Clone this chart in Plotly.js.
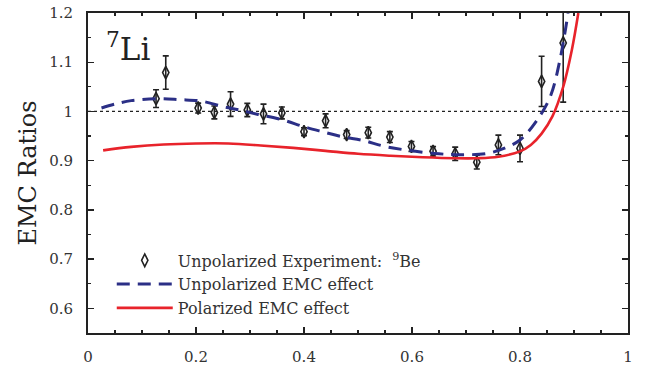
<!DOCTYPE html>
<html>
<head>
<meta charset="utf-8">
<script src="https://cdn.plot.ly/plotly-3.0.1.min.js"></script>
<style>html,body{margin:0;padding:0;background:#fff;}#chart{width:654px;height:367px;}</style>
</head>
<body>
<div id="chart"></div>
<script>
// Experimental points (9Be)
var expX = [0.126, 0.144, 0.204, 0.234, 0.264, 0.295, 0.325, 0.359, 0.400, 0.440, 0.479, 0.519, 0.559, 0.599, 0.639, 0.680, 0.720, 0.760, 0.800, 0.840, 0.880];
var expY = [1.026, 1.079, 1.007, 0.998, 1.015, 1.003, 0.995, 0.997, 0.959, 0.981, 0.953, 0.957, 0.948, 0.929, 0.919, 0.914, 0.897, 0.932, 0.925, 1.061, 1.139];
var expErr = [0.018, 0.034, 0.010, 0.013, 0.025, 0.0135, 0.020, 0.012, 0.008, 0.014, 0.008, 0.011, 0.011, 0.010, 0.0095, 0.0135, 0.014, 0.020, 0.027, 0.051, 0.120];

// Unpolarized EMC effect (dashed)
var unpolX = [0.025, 0.05, 0.08, 0.13, 0.17, 0.21, 0.25, 0.28, 0.315, 0.36, 0.40, 0.43, 0.47, 0.51, 0.55, 0.60, 0.65, 0.69, 0.74, 0.77, 0.80, 0.83, 0.856, 0.874, 0.889];
var unpolY = [1.007, 1.015, 1.022, 1.026, 1.024, 1.021, 1.010, 1.003, 0.994, 0.983, 0.969, 0.960, 0.949, 0.941, 0.929, 0.920, 0.914, 0.912, 0.915, 0.925, 0.942, 0.980, 1.030, 1.105, 1.200];

// Polarized EMC effect (solid)
var polX = [0.028, 0.08, 0.14, 0.20, 0.26, 0.32, 0.38, 0.44, 0.50, 0.56, 0.62, 0.68, 0.72, 0.76, 0.80, 0.82, 0.84, 0.86, 0.88, 0.896, 0.908];
var polY = [0.921, 0.928, 0.933, 0.935, 0.935, 0.931, 0.926, 0.920, 0.914, 0.910, 0.907, 0.905, 0.905, 0.908, 0.919, 0.932, 0.955, 0.990, 1.050, 1.125, 1.200];

// Reference line
var refX = [0.0, 1.0];
var refY = [1.0, 1.0];

var xTicks = [0, 0.2, 0.4, 0.6, 0.8, 1];
var xTickText = ['0', '0.2', '0.4', '0.6', '0.8', '1'];
var yTicks = [0.6, 0.7, 0.8, 0.9, 1.0, 1.1, 1.2];
var yTickText = ['0.6', '0.7', '0.8', '0.9', '1', '1.1', '1.2'];

var serif = 'DejaVu Serif, Liberation Serif, serif';

var traces = [
  {x: refX, y: refY, mode: 'lines', showlegend: false, hoverinfo: 'skip',
   line: {color: '#222', width: 1.2, dash: 'dot'}},
  {x: expX, y: expY, mode: 'markers', name: 'Unpolarized Experiment:  <sup>9</sup>Be',
   marker: {symbol: 'diamond-tall-open', size: 9, color: '#222', line: {width: 1.6, color: '#222'}},
   error_y: {type: 'data', array: expErr, visible: true, color: '#222', thickness: 1.6, width: 3}},
  {x: unpolX, y: unpolY, mode: 'lines', name: 'Unpolarized EMC effect', line: {shape: 'spline', color: '#2b2f86', width: 3, dash: '13px,8px'}},
  {x: polX, y: polY, mode: 'lines', name: 'Polarized EMC effect', line: {shape: 'spline', color: '#e8232b', width: 2.6}}
];

var axisCommon = {
  showline: true, linecolor: '#222', linewidth: 2, mirror: 'allticks',
  ticks: 'inside', ticklen: 6, tickwidth: 1.3, tickcolor: '#222',
  showgrid: false, zeroline: false,
  tickfont: {family: serif, size: 15, color: '#333'}
};

var layout = {
  width: 654, height: 367,
  margin: {l: 88, r: 26, t: 13, b: 34},
  paper_bgcolor: '#fff', plot_bgcolor: '#fff',
  showlegend: true,
  legend: {x: 0.044, y: 0.28, xanchor: 'left', yanchor: 'top', bgcolor: 'rgba(0,0,0,0)',
           itemwidth: 56, font: {family: serif, size: 16, color: '#333'}, tracegroupgap: 0},
  xaxis: Object.assign({}, axisCommon, {range: [0, 1], tickvals: xTicks, ticktext: xTickText, ticklabelstandoff: 9,
    minor: {dtick: 0.05, tick0: 0, ticks: 'inside', ticklen: 3, tickwidth: 1.2, tickcolor: '#222'}}),
  yaxis: Object.assign({}, axisCommon, {range: [0.55, 1.2], tickvals: yTicks, ticktext: yTickText, ticklabelstandoff: 10,
    minor: {dtick: 0.05, tick0: 0.55, ticks: 'inside', ticklen: 3, tickwidth: 1.2, tickcolor: '#222'},
    title: {text: 'EMC Ratios', font: {family: serif, size: 24, color: '#222'}, standoff: 6}}),
  annotations: [
    {xref: 'paper', yref: 'paper', x: 0.03, y: 0.962, xanchor: 'left', yanchor: 'top', showarrow: false,
     text: '<sup>7</sup>Li', font: {family: serif, size: 31, color: '#222'}}
  ]
};

Plotly.newPlot('chart', traces, layout, {staticPlot: true, displayModeBar: false});
</script>
</body>
</html>
